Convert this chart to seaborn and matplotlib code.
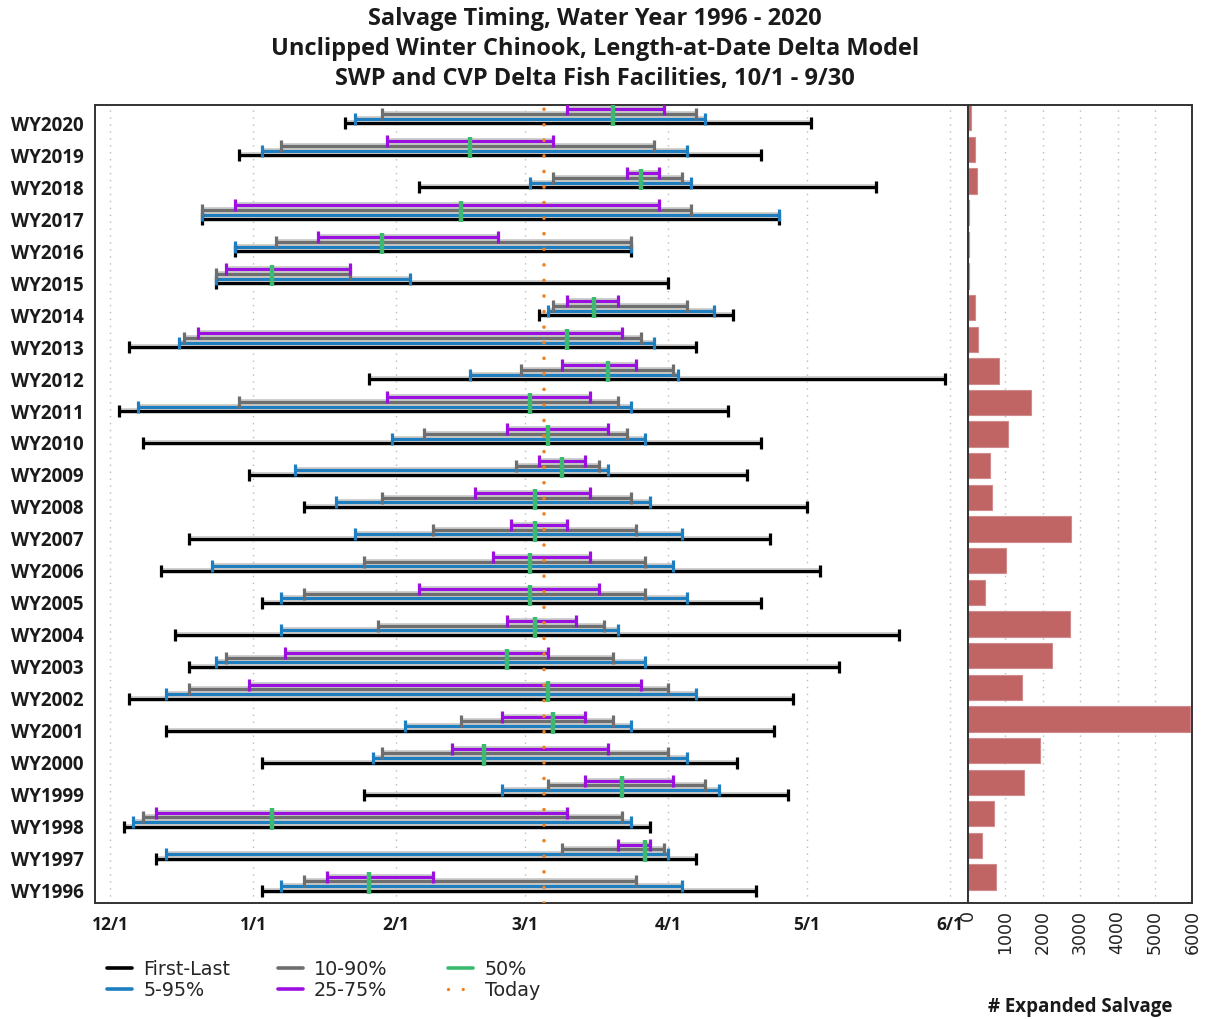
import numpy as np
import pandas as pd
import matplotlib.pyplot as plt
import matplotlib.dates as mdates
import matplotlib.patheffects as pe
from matplotlib.lines import Line2D
import seaborn as sns

# water years, top row first
years = [f"WY{y}" for y in range(2020, 1995, -1)]

# salvage dates as days after Dec 1 (non-leap season)
first = [51, 28, 67, 20, 27, 23, 93, 4, 56, 2, 7, 30, 42, 17, 11, 33, 14, 17, 4, 12, 33, 55, 3, 10, 33]
last  = [152, 141, 166, 145, 113, 121, 135, 127, 181, 134, 141, 138, 151, 143, 154, 141, 171, 158, 148, 144, 136, 147, 117, 127, 140]
p05   = [53, 33, 91, 20, 27, 23, 95, 15, 78, 6, 61, 40, 49, 53, 22, 37, 37, 23, 12, 64, 57, 85, 5, 12, 37]
p95   = [129, 125, 126, 145, 113, 65, 131, 118, 123, 113, 116, 108, 117, 124, 122, 125, 110, 116, 127, 113, 125, 132, 113, 121, 124]
p10   = [59, 37, 96, 20, 36, 23, 96, 16, 89, 28, 68, 88, 59, 70, 55, 42, 58, 25, 17, 76, 59, 95, 7, 98, 42]
p90   = [127, 118, 124, 126, 113, 52, 125, 115, 122, 110, 112, 106, 113, 114, 116, 116, 107, 109, 121, 109, 121, 129, 111, 120, 114]
p25   = [99, 60, 112, 27, 45, 25, 99, 19, 98, 60, 86, 93, 79, 87, 83, 67, 86, 38, 30, 85, 74, 103, 10, 110, 47]
p75   = [120, 96, 119, 119, 84, 52, 110, 111, 114, 104, 108, 103, 104, 99, 104, 106, 101, 95, 115, 103, 108, 122, 99, 117, 70]
p50   = [109, 78, 115, 76, 59, 35, 105, 99, 108, 91, 95, 98, 92, 92, 91, 91, 92, 86, 95, 96, 81, 111, 35, 116, 56]
today = 94

salvage = [90, 200, 230, 30, 20, 25, 180, 260, 840, 1690, 1060, 580, 650, 2750,
           1010, 460, 2720, 2260, 1440, 5930, 1930, 1510, 710, 380, 740]

season_start = pd.Timestamp("2018-12-01")
to_date = lambda d: season_start + pd.to_timedelta(np.asarray(d), unit="D")

sns.set_style("white")
plt.rcParams["font.family"] = ["DejaVu Sans"]
BOLD = dict(fontfamily="Open Sans", fontweight="bold")

fig = plt.figure(figsize=(12.09, 10.19), dpi=100)
ax = fig.add_axes([0.0786, 0.1138, 0.7221, 0.7834])
axb = fig.add_axes([0.8006, 0.1138, 0.1857, 0.7834])

halo = [pe.Stroke(linewidth=4.0, foreground="#c4c4c4"), pe.Normal()]
series = [
    ("First-Last", first, last, "black", 0.00),
    ("5-95%", p05, p95, "#1f7ec0", 0.14),
    ("10-90%", p10, p90, "#6e6e6e", 0.29),
    ("25-75%", p25, p75, "#9b10e0", 0.44),
]
rows = np.arange(len(years))
for name, lo, hi, color, off in series:
    y = rows - off
    x0, x1 = to_date(lo), to_date(hi)
    for a, b, yy in zip(x0, x1, y):
        ax.plot([a, b], [yy, yy], color=color, lw=2.2, solid_capstyle="butt",
                path_effects=halo, zorder=3)
        ax.plot([a, b], [yy, yy], ls="none", marker="|", ms=8, mew=2.3,
                color=color, zorder=4)

ax.vlines(to_date(p50), rows + 0.1, rows - 0.57, color="#3dba6f", lw=3.2, zorder=5)
ax.axvline(to_date(today), color="#f07f1e", lw=2.6, ls=(0, (0.01, 4.3)),
           dash_capstyle="round", zorder=6)

ax.set_xlim(season_start - pd.Timedelta(days=3.3), season_start + pd.Timedelta(days=186))
ax.set_ylim(24.39, -0.58)
ax.set_yticks(rows)
ax.set_yticklabels(years, fontsize=13.5, color="#1a1a1a", **BOLD)
ax.xaxis.set_major_locator(mdates.MonthLocator())
ax.xaxis.set_major_formatter(mdates.DateFormatter("%-m/%-d"))
for lab in ax.get_xticklabels():
    lab.set_fontfamily("Open Sans"); lab.set_fontweight("bold")
    lab.set_fontsize(12.5); lab.set_color("#1a1a1a")
ax.tick_params(axis="both", direction="in", length=7, width=1.3, color="#222222")
ax.tick_params(axis="y", pad=8)
ax.tick_params(axis="x", pad=9)
ax.grid(axis="x", color="#bbbbbb", ls=(0, (1, 4)), lw=1)
for s in ax.spines.values():
    s.set_color("#333333"); s.set_linewidth(1.4)

# salvage bars
df = pd.DataFrame({"year": years, "salvage": salvage})
sns.barplot(data=df, y="year", x="salvage", orient="h", color="#c06464",
            saturation=1, width=0.8, edgecolor="#d08c8c", linewidth=0.8, ax=axb)
axb.set_ylim(24.82, -0.41)
axb.set_xlim(0, 6000)
axb.set_xticks(np.arange(0, 6001, 1000))
axb.set_xticklabels([str(v) for v in range(0, 6001, 1000)], rotation=90, fontsize=12.5,
                    color="#222222")
axb.set_yticks([])
axb.set_ylabel("")
axb.set_xlabel("# Expanded Salvage", fontsize=13.5, color="#1a1a1a", labelpad=31, **BOLD)
axb.tick_params(axis="x", direction="in", length=7, width=1.3, color="#222222", pad=5)
axb.grid(axis="x", color="#bbbbbb", ls=(0, (1, 4)), lw=1)
axb.set_axisbelow(True)
for s in axb.spines.values():
    s.set_color("#333333"); s.set_linewidth(1.4)

fig.suptitle("Salvage Timing, Water Year 1996 - 2020\n"
             "Unclipped Winter Chinook, Length-at-Date Delta Model\n"
             "SWP and CVP Delta Fish Facilities, 10/1 - 9/30",
             x=0.492, y=0.993, va="top", fontsize=17, linespacing=1.34,
             color="#1a1a1a", **BOLD)

# legend, three fixed-width columns
handles = [
    [Line2D([], [], color="black", lw=2.6, label="First-Last"),
     Line2D([], [], color="#1f7ec0", lw=2.6, label="5-95%")],
    [Line2D([], [], color="#6e6e6e", lw=2.6, label="10-90%"),
     Line2D([], [], color="#9b10e0", lw=2.6, label="25-75%")],
    [Line2D([], [], color="#3dba6f", lw=2.6, label="50%"),
     Line2D([], [], color="#f07f1e", lw=2.4, ls=(0, (0.01, 4.4)),
            dash_capstyle="round", label="Today")],
]
for i, hs in enumerate(handles):
    fig.legend(handles=hs, loc="upper left", bbox_to_anchor=(0.0885 + i * 0.1411, 0.058),
               frameon=False, fontsize=13.8, handlelength=1.3, handletextpad=0.6,
               labelspacing=0.1, borderaxespad=0, borderpad=0)

fig.savefig("out.png", dpi=100)
